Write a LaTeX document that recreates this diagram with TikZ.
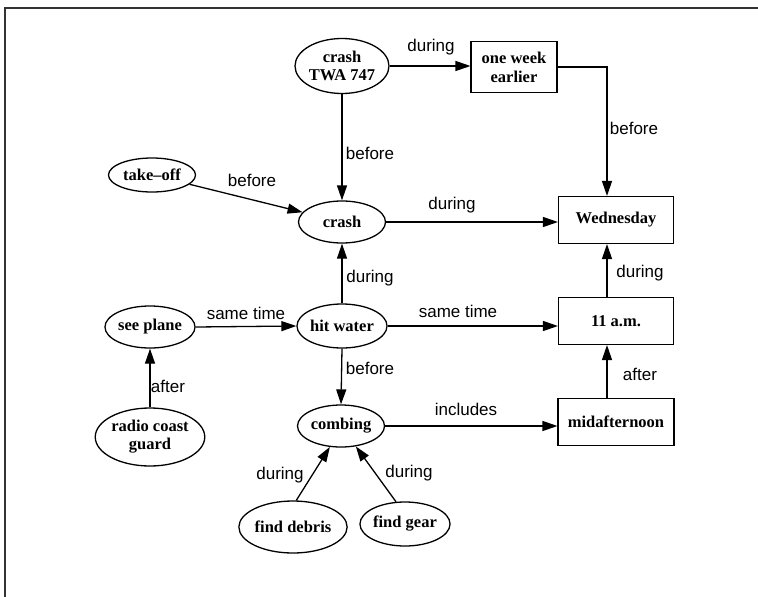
\documentclass[tikz,border=0pt]{standalone}
\usepackage{fontspec}
\setmainfont{Liberation Serif}
\setsansfont{Liberation Sans}
\usetikzlibrary{shapes.geometric,arrows.meta}
\tikzset{
  ev/.style={draw, ellipse, line width=1.3pt, inner sep=0pt, align=center,
    font=\bfseries\fontsize{16.5}{18}\selectfont},
  tb/.style={draw, rectangle, line width=1.1pt, inner sep=0pt, align=center,
    font=\bfseries\fontsize{16.5}{19}\selectfont},
  lbl/.style={font=\sffamily\fontsize{17}{19}\selectfont, inner sep=0pt},
  arr/.style={line width=1.3pt, -{Triangle[length=15pt,width=10pt]}},
}
\begin{document}
\begin{tikzpicture}[x=1pt,y=-1pt]
\useasboundingbox (0,0) rectangle (758,597);
\draw[line width=1.3pt, black!80] (758,8) -- (5,8) -- (5,597);

% nodes
\node[ev, minimum width=84, minimum height=55] (twa) at (342,66) {crash\\TWA 747};
\node[tb, minimum width=86, minimum height=51] (owe) at (514,67) {one week\\earlier};
\node[ev, minimum width=87, minimum height=34] (tko) at (152,175) {take--off};
\node[ev, minimum width=87, minimum height=42] (crash) at (342,222) {crash};
\node[tb, minimum width=115, minimum height=47] (wed) at (616,220) {Wednesday};
\node[ev, minimum width=88, minimum height=42] (see) at (150,327) {see plane};
\node[ev, minimum width=86, minimum height=44] (hit) at (342,326) {hit water};
\node[tb, minimum width=115, minimum height=47] (eleven) at (616,321) {11 a.m.};
\node[ev, minimum width=104, minimum height=58] (rcg) at (150,437) {radio coast\\guard};
\node[ev, minimum width=87, minimum height=42] (comb) at (341,426) {combing};
\node[tb, minimum width=116, minimum height=47] (mid) at (616,422) {midafternoon};
\node[ev, minimum width=92, minimum height=52] (fd) at (293,527) {find debris};
\node[ev, minimum width=86, minimum height=44] (fg) at (405,524) {find gear};

\coordinate (wx) at (607,0);

% connectors
\draw[arr] (twa.east) -- (owe.west |- twa.east);
\draw[arr] (owe.east) -| (wx |- wed.north);
\draw[arr] (twa.south) -- (crash.north);
\draw[arr] (tko) -- (crash);
\draw[arr] (crash.east) -- (wed.west |- crash.east);
\draw[arr] (hit.north) -- (crash.south);
\draw[arr] (see.east) -- (hit.west);
\draw[arr] (hit.east) -- (eleven.west |- hit.east);
\draw[arr] (wx |- eleven.north) -- (wx |- wed.south);
\draw[arr] (rcg.north) -- (see.south);
\draw[arr] (hit.south) -- (comb.north);
\draw[arr] (comb.east) -- (mid.west |- comb.east);
\draw[arr] (wx |- mid.north) -- (wx |- eleven.south);
\draw[arr] (fd.83) -- (comb.242);
\draw[arr] (fg.112) -- (comb.306);

% labels
\node[lbl] (l1) at (431,47) {during};
\node[lbl] (l2) at (634,128) {before};
\node[lbl] (l3) at (370,153) {before};
\node[lbl] (l4) at (252,180) {before};
\node[lbl] (l5) at (452,205) {during};
\node[lbl] (l6) at (370,278) {during};
\node[lbl] (l7) at (246,313) {same time};
\node[lbl] (l8) at (458,311) {same time};
\node[lbl] (l9) at (640,273) {during};
\node[lbl] (l10) at (168,386) {after};
\node[lbl] (l11) at (370,368) {before};
\node[lbl] (l12) at (466,409) {includes};
\node[lbl] (l13) at (640,374) {after};
\node[lbl] (l14) at (280,475) {during};
\node[lbl] (l15) at (409,473) {during};
\end{tikzpicture}
\end{document}
